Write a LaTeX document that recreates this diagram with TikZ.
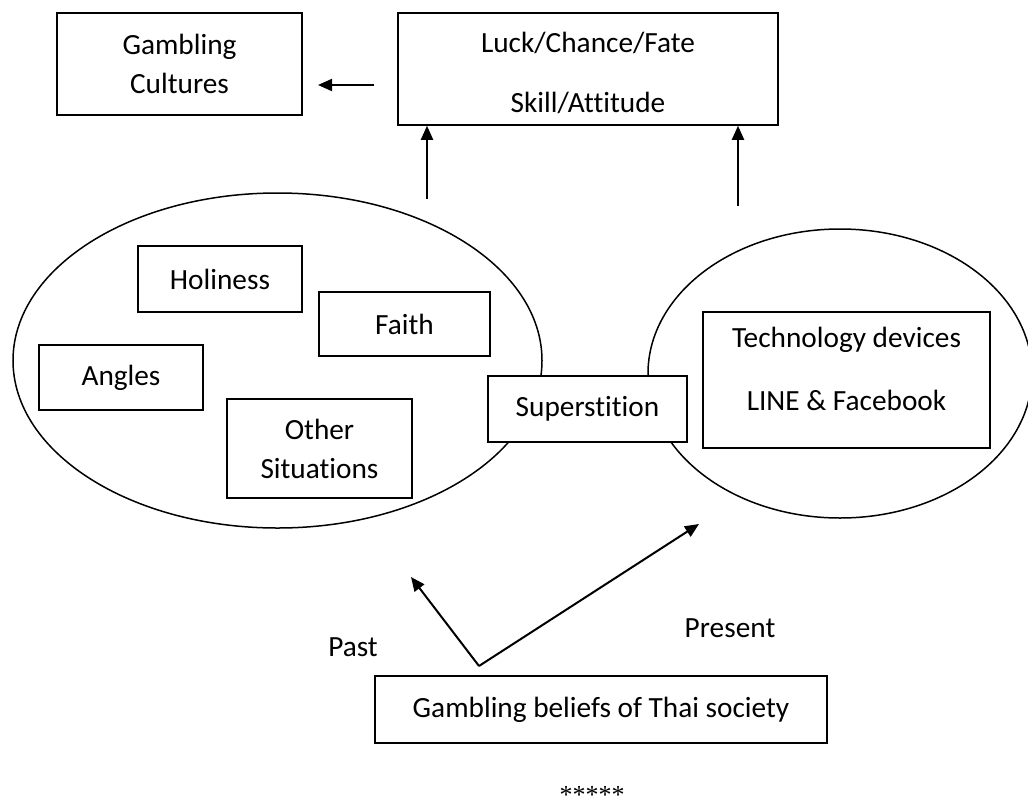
\documentclass[tikz,border=0pt]{standalone}
\usepackage{fontspec}
\setmainfont[Ligatures=NoCommon]{Carlito}
\newfontfamily\starfont{Liberation Serif}
\usetikzlibrary{arrows.meta,shapes.geometric}
\begin{document}
\begin{tikzpicture}[x=1pt,y=-1pt,
  every node/.style={font=\fontsize{29.3}{39}\selectfont, text=black},
  box/.style={draw, line width=1.5pt, fill=white, inner sep=0pt, align=center},
  oval/.style={draw, ellipse, line width=1.5pt, inner sep=0pt},
  arr/.style={line width=2pt, -{Triangle[length=14pt,width=12pt]}},
  lbl/.style={inner sep=0pt, align=center}]
\useasboundingbox (0,0) rectangle (1028,809);
% ovals
\node[oval, minimum width=529pt, minimum height=335pt] (left) at (277.5,360.5) {};
\node[oval, minimum width=384pt, minimum height=289pt] (right) at (840,373.5) {};
% top boxes
\node[box, minimum width=245pt, minimum height=102pt] (gc) at (179.5,64) {Gambling\\Cultures};
\node[box, minimum width=380pt, minimum height=112pt] (luck) at (588,69) {};
\node[lbl] (luckt) at (588,43) {Luck/Chance/Fate};
\node[lbl] (skillt) at (588,103) {Skill/Attitude};
% inner boxes
\node[box, minimum width=164pt, minimum height=66pt] (hol) at (220,279) {Holiness};
\node[box, minimum width=171pt, minimum height=64pt] (faith) at (404.5,324) {Faith};
\node[box, minimum width=164pt, minimum height=65pt] (ang) at (121,377.5) {Angles};
\node[box, minimum width=185pt, minimum height=99pt] (oth) at (319.5,448.5) {Other\\Situations};
\node[box, minimum width=199pt, minimum height=66pt] (sup) at (587.5,409) {Superstition};
\node[box, minimum width=287pt, minimum height=136pt] (tech) at (846.5,380) {};
\node[lbl] (techt) at (846.5,340) {Technology devices};
\node[lbl] (linet) at (846.5,400) {LINE \& Facebook};
% bottom box
\node[box, minimum width=452pt, minimum height=67pt] (bel) at (601,709.5) {Gambling beliefs of Thai society};
% arrows
\coordinate (gcs) at (374,85);
\coordinate (gce) at (318,85);
\draw[arr] (gcs) -- (gce);
\coordinate (u1) at (427,199);
\coordinate (u2) at (738,206);
\draw[arr] (u1) -- (u1 |- luck.south);
\draw[arr] (u2) -- (u2 |- luck.south);
\coordinate (fork) at (479,666);
\coordinate (pastend) at (411,577);
\coordinate (presend) at (699,524);
\draw[arr] (fork) -- (pastend);
\draw[arr] (fork) -- (presend);
% labels
\node[lbl] (past) at (353,647) {Past};
\node[lbl] (present) at (730,628) {Present};
\node[lbl, anchor=base, font=\starfont\fontsize{26}{28}\selectfont] (stars) at (592,803) {*****};
\end{tikzpicture}
\end{document}
